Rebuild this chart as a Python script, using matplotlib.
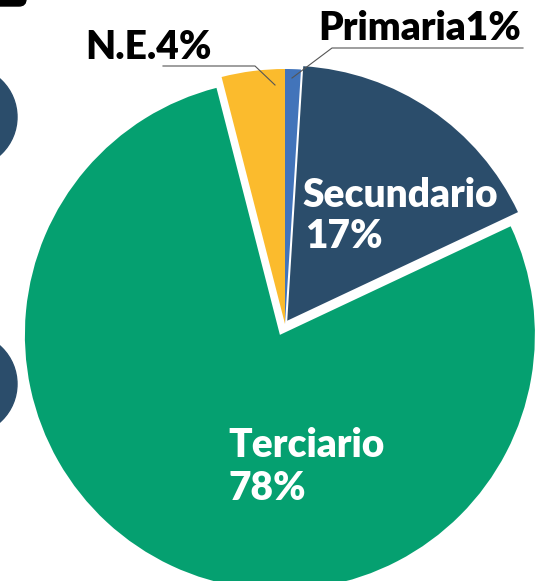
import matplotlib
matplotlib.use("Agg")
import matplotlib.pyplot as plt
from matplotlib.patches import Circle, FancyBboxPatch

# Data
categories = ["Secundario", "Primaria", "N.E.", "Terciario"]
values = [17, 1, 4, 78]
colors = ["#2B4D6B", "#4274BA", "#FBBB2D", "#05A070"]
explode = [4, 0, 0, 12]  # in pixels (pie explode is in data units)

W, H = 535, 581
fig = plt.figure(figsize=(W / 100, H / 100), dpi=100)
ax = fig.add_axes([0, 0, 1, 1])

cx, cy = 285, H - 324
R = 255
wedges, _ = ax.pie(values, colors=colors, explode=explode, startangle=25.2,
                   counterclock=True, radius=R, center=(cx, cy),
                   wedgeprops=dict(linewidth=0))

ax.set_xlim(0, W)
ax.set_ylim(0, H)
ax.set_aspect("equal")
ax.axis("off")

# decorative circles on left edge
for yc in (117, 384):
    ax.add_patch(Circle((-34, H - yc), 51, color="#2B4D6B", zorder=0))

# partial dark shape at top-left
ax.add_patch(FancyBboxPatch((-20, H - 6), 46, 20,
                            boxstyle="round,pad=0,rounding_size=7",
                            color="black", zorder=3))

font = "Lato"
fs = 28

# outside labels
ax.text(85, H - 59, f"{categories[2]}{values[2]}%", fontsize=fs, fontweight="heavy",
        family=font, color="black", va="baseline", ha="left")
ax.text(318, H - 40, f"{categories[1]}{values[1]}%", fontsize=fs, fontweight="heavy",
        family=font, color="black", va="baseline", ha="left")

# leader lines
ax.plot([163, 255, 275], [H - 66, H - 66, H - 85], color="#555555", lw=0.8)
ax.plot([523, 332, 292], [H - 48, H - 48, H - 78], color="#555555", lw=0.8)

# inside labels
ax.text(302, H - 207, categories[0], fontsize=fs, fontweight="heavy",
        family=font, color="white", va="baseline", ha="left")
ax.text(305, H - 248, f"{values[0]}%", fontsize=fs, fontweight="heavy",
        family=font, color="white", va="baseline", ha="left")
ax.text(228, H - 457, categories[3], fontsize=fs, fontweight="heavy",
        family=font, color="white", va="baseline", ha="left")
ax.text(228, H - 500, f"{values[3]}%", fontsize=fs, fontweight="heavy",
        family=font, color="white", va="baseline", ha="left")

fig.savefig("out.png", dpi=100)
